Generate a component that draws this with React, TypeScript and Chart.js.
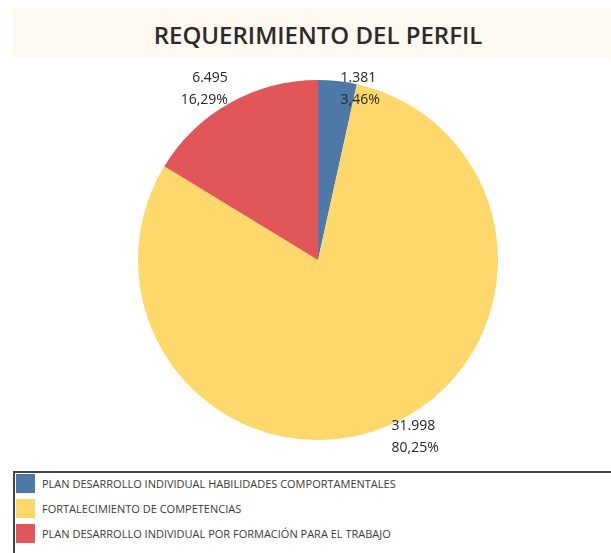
import React, { useEffect, useRef } from "react";
import { Chart, registerables } from "chart.js";

Chart.register(...registerables);

const title = "REQUERIMIENTO DEL PERFIL";
const categories = [
  "PLAN DESARROLLO INDIVIDUAL HABILIDADES COMPORTAMENTALES",
  "FORTALECIMIENTO DE COMPETENCIAS",
  "PLAN DESARROLLO INDIVIDUAL POR FORMACIÓN PARA EL TRABAJO",
];
const values = [1381, 31998, 6495];
const colors = ["#4e79a7", "#fed86a", "#e15759"];
// label nudges (pixels) relative to the slice's outer edge at its mid-angle
const labelNudge = [
  [3, 8],
  [3, 11],
  [-2, -14],
];

const fmtNum = (v: number) =>
  v.toString().replace(/\B(?=(\d{3})+(?!\d))/g, ".");
const fmtPct = (p: number) => p.toFixed(2).replace(".", ",") + "%";

const labelPlugin = {
  id: "sliceLabels",
  afterDatasetsDraw(chart: any) {
    const ctx = chart.ctx;
    const meta = chart.getDatasetMeta(0);
    const total = values.reduce((a, b) => a + b, 0);
    ctx.save();
    ctx.font = "500 14px 'Open Sans'";
    ctx.fillStyle = "#262626";
    ctx.textBaseline = "middle";
    meta.data.forEach((arc: any, i: number) => {
      const { x, y, startAngle, endAngle, outerRadius } = arc.getProps(
        ["x", "y", "startAngle", "endAngle", "outerRadius"],
        true
      );
      const mid = (startAngle + endAngle) / 2;
      const ax = x + Math.cos(mid) * outerRadius + labelNudge[i][0];
      const ay = y + Math.sin(mid) * outerRadius + labelNudge[i][1];
      ctx.textAlign = Math.cos(mid) >= 0 ? "left" : "right";
      ctx.fillText(fmtNum(values[i]), ax, ay - 11);
      ctx.fillText(fmtPct((values[i] / total) * 100), ax, ay + 11);
    });
    ctx.restore();
  },
};

export default function App() {
  const ref = useRef<HTMLCanvasElement>(null);
  useEffect(() => {
    if (!ref.current) return;
    const chart = new Chart(ref.current, {
      type: "pie",
      data: {
        labels: categories,
        datasets: [
          {
            data: values,
            backgroundColor: colors,
            borderWidth: 0,
          },
        ],
      },
      options: {
        animation: false,
        responsive: false,
        layout: { padding: { left: 138, right: 113, top: 22, bottom: 28 } },
        plugins: {
          legend: { display: false },
          tooltip: { enabled: false },
          title: { display: false },
        },
      },
      plugins: [labelPlugin],
    });
    return () => chart.destroy();
  }, []);

  return (
    <div
      style={{
        position: "absolute",
        left: 0,
        top: 0,
        width: 611,
        height: 553,
        overflow: "hidden",
        background: "#ffffff",
        fontFamily: "'Open Sans', sans-serif",
      }}
    >
      <div
        style={{
          position: "absolute",
          left: 13,
          top: 8,
          width: 598,
          height: 50,
          background: "#fdf8f0",
          display: "flex",
          alignItems: "center",
          justifyContent: "center",
        }}
      >
        <span
          style={{
            fontSize: 24,
            fontWeight: 600,
            color: "#2b2b2b",
            marginLeft: 12,
            marginTop: 2,
          }}
        >
          {title}
        </span>
      </div>
      <canvas
        ref={ref}
        width={611}
        height={410}
        style={{ position: "absolute", left: 0, top: 58, width: 611, height: 410 }}
      />
      <div
        style={{
          position: "absolute",
          left: 13,
          top: 471,
          width: 620,
          height: 100,
          border: "2px solid #444444",
          boxSizing: "border-box",
        }}
      >
        {categories.map((c, i) => (
          <div
            key={c}
            style={{
              position: "absolute",
              left: 1,
              top: 1 + i * 25,
              height: 19,
              display: "flex",
              alignItems: "center",
            }}
          >
            <div style={{ width: 19, height: 19, background: colors[i] }} />
            <span
              style={{
                marginLeft: 7,
                fontSize: 11,
                color: "#3a3a3a",
                whiteSpace: "nowrap",
              }}
            >
              {c}
            </span>
          </div>
        ))}
      </div>
    </div>
  );
}
